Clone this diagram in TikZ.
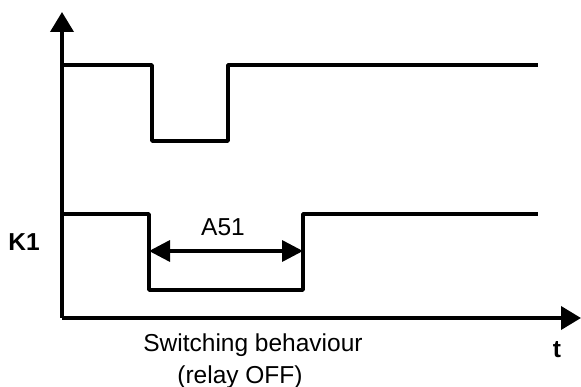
\documentclass[tikz,border=0pt]{standalone}
\usepackage{fontspec}
\setmainfont{Liberation Sans}
\usetikzlibrary{arrows.meta}
\tikzstyle{signal} = [line width=3.5pt, line join=round]
\tikzstyle{axis} = [line width=3.8pt, -{Triangle[length=20pt,width=23pt]}]
\tikzstyle{span} = [line width=3.5pt, {Triangle[length=21pt,width=21pt]}-{Triangle[length=21pt,width=21pt]}]
\tikzstyle{label} = [inner sep=0pt, font=\fontsize{24.5}{32}\selectfont]

\begin{document}
\begin{tikzpicture}[x=1pt, y=-1pt]
   \useasboundingbox (0,0) rectangle (581,387);
   % nodes
   \coordinate (O) at (62,318);
   \coordinate (ytop) at (62,12);
   \coordinate (xend) at (581,318);
   \coordinate (L) at (149,251);
   \coordinate (R) at (303,251);
   \node[label] (A51) at (223,227)          {A51};
   \node[label, font=\fontsize{24.5}{32}\selectfont\bfseries] (K1) at (24,242) {K1};
   \node[label, font=\fontsize{24.5}{32}\selectfont\bfseries] (t) at (557,350)  {t};
   \node[label] (sw) at (253,345)           {Switching behaviour};
   \node[label] (off) at (240,377)          {(relay OFF)};

   % edges
	\draw[axis] (O) to (ytop);
	\draw[axis] (O) to (xend);
	\draw[signal] (62,65) -- (152,65) -- (152,141) -- (228,141) -- (228,65) -- (538,65);
	\draw[signal] (62,214) -- (149,214) -- (149,290) -- (303,290) -- (303,214) -- (538,214);
	\draw[span] (L) to (R);
  \end{tikzpicture}
\end{document}
